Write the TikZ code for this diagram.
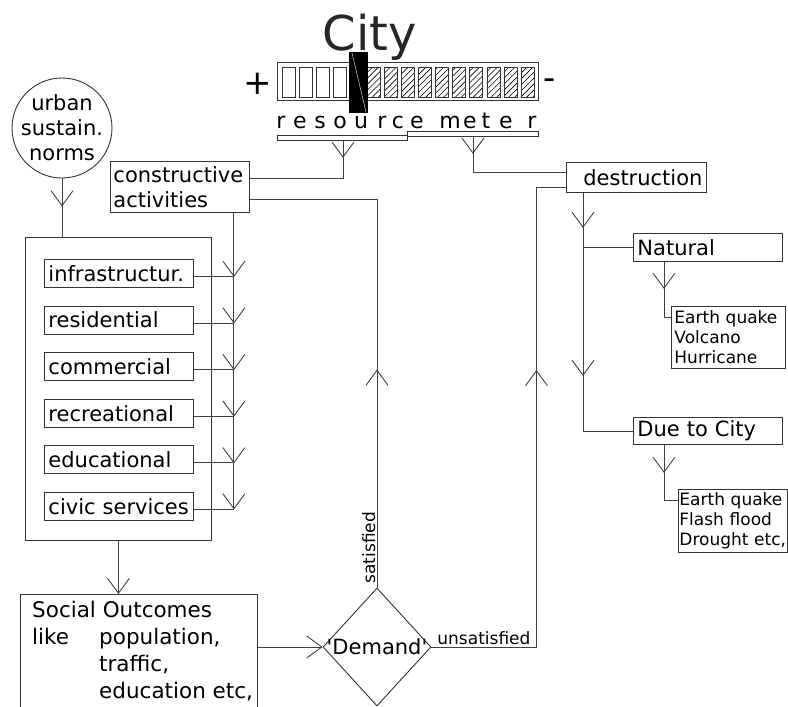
\documentclass[tikz,border=0pt]{standalone}
\usepackage{fontspec}
\setmainfont{DejaVu Sans}
\usetikzlibrary{arrows.meta,decorations.markings,patterns.meta,shapes.geometric,calc}
\tikzset{
  vtip/.tip={Straight Barb[length=15pt,width=22pt]},
  marks/.style={postaction={decorate,decoration={markings,#1}}},
  ln/.style={draw=black!75, line width=0.9pt},
  box/.style={draw=black!80, line width=0.9pt, anchor=north west, inner ysep=0pt, align=left},
  main/.style={font=\fontsize{21}{25}\selectfont},
  small/.style={font=\fontsize{17}{20}\selectfont},
  lab/.style={font=\fontsize{17}{20}\selectfont},
  cell/.style={draw=black!80, line width=0.6pt},
}
\begin{document}
\begin{tikzpicture}[x=1pt,y=-1pt]
\useasboundingbox (0,0) rectangle (788,707);
\clip (0,0) rectangle (788,707);

% ---- City and resource meter ----
\node[font=\fontsize{48}{50}\selectfont, anchor=base, text=black!85, inner sep=0] (city) at (370,50) {City};
\node[draw=black!80, line width=0.8pt, minimum width=261pt, minimum height=38pt, anchor=north west, inner sep=0] (meter) at (277,62) {};
\foreach \i in {0,...,3} \draw[cell] ({282+17.07*\i},67) rectangle ++(13,30);
\foreach \i in {5,...,14} \draw[cell, pattern={Lines[angle=45,distance=4.2pt,line width=0.6pt]}] ({282+17.07*\i},67) rectangle ++(13,30);
\fill[black] (349,52) rectangle (368,113);
\draw[white, line width=0.4pt] (352,53) -- (366,112);
\node[font=\fontsize{34}{36}\selectfont, inner sep=0] (plus) at (258,84) {+};
\node[font=\fontsize{34}{36}\selectfont, inner sep=0] (minus) at (550,84) {-};
\foreach \ch/\cx in {r/281, e/300, s/320, o/340, u/361, r/382, c/398, e/417, m/450, e/470, t/486, e/506, r/532}
  \node[font=\fontsize{22}{24}\selectfont, anchor=base, inner sep=0] at (\cx,128) {\ch};
\node[draw=black!80, line width=0.8pt, minimum width=130pt, minimum height=5pt, anchor=north west, inner sep=0] (brL) at (277,135) {};
\node[draw=black!80, line width=0.8pt, minimum width=131pt, minimum height=5pt, anchor=north west, inner sep=0] (brR) at (407,131) {};

% ---- left part ----
\node[draw=black!80, line width=0.9pt, circle, minimum size=100pt, inner sep=0] (urban) at (62,128) {};
\node[main, align=center, inner sep=0] (urbantxt) at (62,128) {urban\\sustain.\\norms};
\node[box, main, text width=133pt, inner xsep=3pt, minimum height=51pt] (constr) at (110,161) {constructive\\activities};
\node[draw=black!80, line width=0.9pt, minimum width=186pt, minimum height=303pt, anchor=north west, inner sep=0] (cont) at (25,237) {};
\coordinate (bt) at ([xshift=-16pt]constr.south east);
\foreach \t [count=\i from 0] in {infrastructur., residential, commercial, recreational, educational, civic services} {
  \node[box, main, text width=141pt, inner xsep=4pt, minimum height=28pt] (in\i) at (44,{259+46.6*\i}) {\t};
  \coordinate (j\i) at ([yshift=-3pt]in\i.east);
  \draw[ln] (j\i) -- (j\i -| bt);
}
\draw[ln, -vtip, marks={mark=at position 64pt with {\arrow{vtip}}, mark=at position 110.6pt with {\arrow{vtip}}, mark=at position 157.2pt with {\arrow{vtip}}, mark=at position 203.8pt with {\arrow{vtip}}, mark=at position 250.4pt with {\arrow{vtip}}}] (bt) -- (bt |- j5);
\draw[ln, marks={mark=at position 28pt with {\arrow{vtip}}}] (urban.south) -- (urban.south |- cont.north);
\draw[ln, marks={mark=at position 17pt with {\arrow{vtip}}}] ([xshift=66pt]brL.south west) |- ([yshift=-17pt]constr.north east);

% ---- social outcomes and demand ----
\node[draw=black!80, line width=0.9pt, minimum width=237pt, minimum height=140pt, anchor=north west, inner sep=0] (social) at (20,594) {};
\node[anchor=north west, inner sep=0, font=\fontsize{21.5}{27}\selectfont] (socialtxt) at (32,598)
  {\begin{tabular}{@{}p{67pt}@{}l@{}}\multicolumn{2}{@{}l@{}}{Social Outcomes}\\ like & population,\\ & traffic,\\ & education etc,\end{tabular}};
\draw[ln, -vtip] (cont.south) -- (cont.south |- social.north);
\node[diamond, draw=black!80, line width=0.9pt, minimum width=108pt, minimum height=118pt, inner sep=0] (dem) at (377,647) {};
\node[main, inner sep=0] (demtxt) at (dem.center) {\textquotesingle Demand\textquotesingle};
\draw[ln, -vtip] (dem.west -| social.east) -- (dem.west);
\draw[ln, marks={mark=at position 218pt with {\arrow{vtip}}}] (dem.north) |- ([yshift=-38pt]constr.north east);
\node[lab, rotate=90, anchor=south, inner sep=1.5pt] (sat) at ([yshift=40pt]dem.north) {satisfied};

% ---- destruction side ----
\node[box, main, text width=132pt, inner xsep=4pt, minimum height=30pt, align=right] (destr) at (566,162) {destruction};
\draw[ln, marks={mark=at position 17pt with {\arrow{vtip}}}] ([xshift=66pt]brR.south west) |- ([yshift=-10pt]destr.north west);
\draw[ln, marks={mark=at position 382pt with {\arrow{vtip}}}] (dem.east) -- node[lab, above, inner sep=1.5pt] (unsat) {unsatisfied} ++(105,0) |- ([yshift=-25pt]destr.north west);
\node[box, main, text width=141pt, inner xsep=4pt, minimum height=28pt] (nat) at (633,233) {Natural};
\node[box, main, text width=141pt, inner xsep=4pt, minimum height=27pt] (due) at (633,417) {Due to City};
\node[box, small, text width=108pt, inner xsep=3pt, minimum height=62pt] (l1) at (671,306) {\mbox{Earth quake}\\\mbox{Volcano}\\\mbox{Hurricane}};
\node[box, small, text width=107pt, inner xsep=1pt, minimum height=63pt] (l2) at (678,489) {\mbox{Earth quake}\\\mbox{Flash flood}\\\mbox{Drought etc,}};
\coordinate (dt) at ([xshift=17pt]destr.south west);
\draw[ln, marks={mark=at position 35pt with {\arrow{vtip}}, mark=at position 183pt with {\arrow{vtip}}}] (dt) -- (dt |- due.west);
\draw[ln] (dt |- nat.west) -- (nat.west);
\draw[ln] (dt |- due.west) -- (due.west);
\draw[ln, marks={mark=at position 27pt with {\arrow{vtip}}}] ([xshift=31pt]nat.south west) |- ([yshift=-11pt]l1.north west);
\draw[ln, marks={mark=at position 28pt with {\arrow{vtip}}}] ([xshift=31pt]due.south west) |- ([yshift=-11pt]l2.north west);
\end{tikzpicture}
\end{document}
